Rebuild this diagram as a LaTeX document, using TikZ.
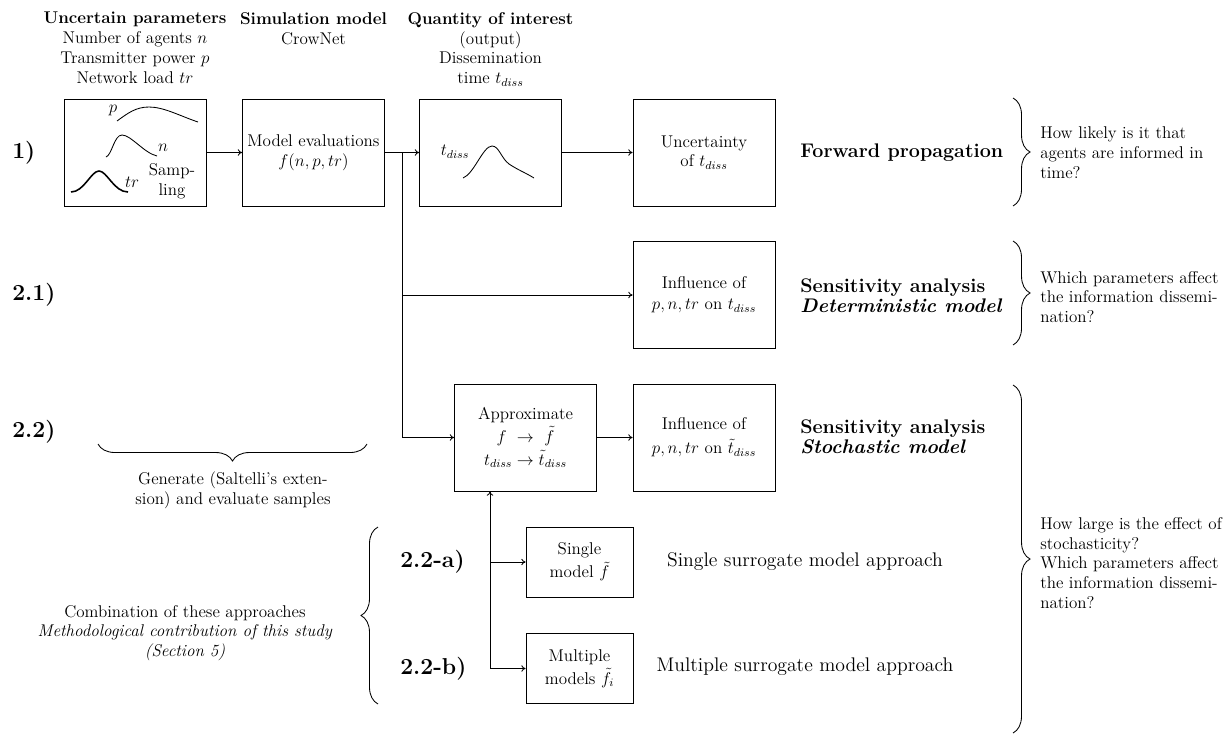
\documentclass[tikz,border=0pt]{standalone}
\usetikzlibrary{decorations.pathreplacing,arrows.meta}
\begin{document}
\begin{tikzpicture}[x=0.705pt,y=-0.705pt,
  every node/.style={inner sep=0pt},
  box/.style={draw, line width=0.6pt, minimum width=100.1pt, minimum height=75.4pt, align=center, font=\large},
  subbox/.style={draw, line width=0.6pt, minimum width=75.4pt, minimum height=49.4pt, align=center, font=\large},
  conn/.style={line width=0.6pt},
  arr/.style={conn, -{To[length=3pt,width=4.5pt]}},
  steplabel/.style={font=\fontsize{16.2pt}{20pt}\selectfont\bfseries, anchor=west},
  header/.style={font=\large, align=center, anchor=north},
  method/.style={font=\fontsize{13.9pt}{17pt}\selectfont\bfseries, align=left, anchor=west},
  approach/.style={font=\fontsize{13.9pt}{17pt}\selectfont},
  question/.style={font=\large, align=left, anchor=west},
  bracedeco/.style={line width=0.6pt, decorate, decoration={brace, amplitude=#1}},
  curve/.style={line width=0.6pt}
]
\useasboundingbox (0,0) rectangle (1230,735);

% column headers
\node[header] (h1) at (135,12) {\textbf{Uncertain parameters}\\Number of agents $n$\\Transmitter power $p$\\Network load $tr$};
\node[header] (h2) at (313.5,12) {\textbf{Simulation model}\\CrowNet};
\node[header] (h3) at (490.5,12) {\textbf{Quantity of interest}\\(output)\\Dissemination\\time $t_{diss}$};

% step labels
\node[steplabel] (l1) at (12,153) {1)};
\node[steplabel] (l21) at (12,295) {2.1)};
\node[steplabel] (l22) at (12,432) {2.2)};
\node[steplabel] (l22a) at (400,562) {2.2-a)};
\node[steplabel] (l22b) at (400,669) {2.2-b)};

% boxes
\node[box] (A) at (135,152.5) {};
\node[box] (B) at (313.5,152.5) {Model evaluations\\$f(n,p,tr)$};
\node[box] (C) at (490.5,152.5) {};
\node[box] (D) at (704,152.5) {Uncertainty\\of $t_{diss}$};
\node[box] (E) at (704,295) {Influence of\\[1pt]$p,n,tr$ on $t_{diss}$};
\node[box] (F) at (525.5,437.5) {Approximate\\[2pt]$f\ \rightarrow\ \tilde{f}$\\[2pt]$t_{diss}\rightarrow\tilde{t}_{diss}$};
\node[box] (G) at (704,437.5) {Influence of\\[3pt]$p,n,tr$ on $\tilde{t}_{diss}$};
\node[subbox] (H) at (579.5,562) {Single\\[2pt]model $\tilde{f}$};
\node[subbox] (I) at (579.5,668.5) {Multiple\\[2pt]models $\tilde{f}_i$};

% sampling sketch inside A
\node[font=\large] (pl) at (113,110) {$p$};
\draw[curve] (117,121) .. controls (128,113) and (136,107) .. (149,107) .. controls (164,107) and (180,116) .. (198,122);
\node[font=\large] (nl) at (163,148) {$n$};
\draw[curve] (106,157) .. controls (112,155) and (114,135) .. (122,135) .. controls (131,135) and (144,153) .. (157,156);
\node[font=\large] (trl) at (132,182) {$tr$};
\draw[line width=1.1pt] (71,192) .. controls (84,192) and (91,171) .. (99,171) .. controls (107,171) and (114,192) .. (128,192);
\node[font=\large, align=center] (samp) at (172,181) {Samp-\\ling};

% distribution sketch inside C
\node[font=\large] (tl) at (455,152) {$t_{diss}$};
\draw[curve] (463,178) .. controls (474,174) and (483,146) .. (492,146) .. controls (499,146) and (501,158) .. (509,164) .. controls (518,170) and (526,173) .. (534,178);

% connectors
\coordinate (split) at (402,152.5);
\draw[arr] (A) -- (B);
\draw[arr] (B) -- (C);
\draw[arr] (C) -- (D);
\draw[arr] (split) |- (E.west);
\draw[arr] (split) |- (F.west);
\draw[arr] (F) -- (G);
\coordinate (root) at (490,668.5);
\draw[arr] (root) -- (root |- F.south);
\draw[arr] (root |- H.west) -- (H.west);
\draw[arr] (root) -- (I.west);

% method names
\node[method] (m1) at (800,152.5) {Forward propagation};
\node[method] (m21) at (800,296) {Sensitivity analysis\\[-3pt]\textit{Deterministic model}};
\node[method] (m22) at (800,437) {Sensitivity analysis\\[-3pt]\textit{Stochastic model}};
\node[approach] (a1) at (805,562) {Single surrogate model approach};
\node[approach] (a2) at (805,667) {Multiple surrogate model approach};

% braces and questions
\draw[bracedeco=12pt] (1013,98) -- (1013,206);
\draw[bracedeco=12pt] (1013,241) -- (1013,345);
\draw[bracedeco=12pt] (1013,385) -- (1013,733);
\node[question] (q1) at (1040,153) {How likely is it that\\agents are informed in\\time?};
\node[question] (q21) at (1040,297) {Which parameters affect\\the information dissemi-\\nation?};
\node[question] (q22) at (1040,563) {How large is the effect of\\stochasticity?\\Which parameters affect\\the information dissemi-\\nation?};

% sample generation note
\draw[bracedeco=12pt] (367,444) -- (98,444);
\node[font=\large, align=center] (gen) at (233,490) {Generate (Saltelli's exten-\\sion) and evaluate samples};

% combination note
\draw[bracedeco=12pt] (378,704) -- (378,527);
\node[font=\large, align=center] (comb) at (185,633) {Combination of these approaches\\\textit{Methodological contribution of this study}\\\textit{(Section 5)}};
\end{tikzpicture}
\end{document}
